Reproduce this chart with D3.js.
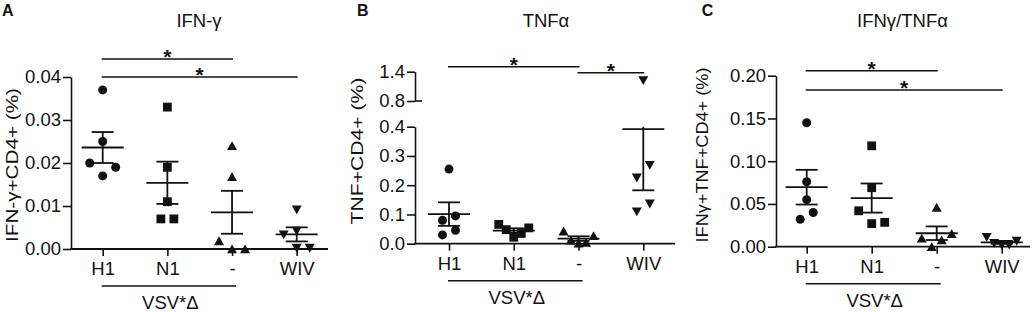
<!DOCTYPE html>
<html>
<head>
<meta charset="utf-8">
<script src="https://cdn.jsdelivr.net/npm/d3@7"></script>
<style>
  body { margin: 0; background: #fff; }
  svg text { font-family: "Liberation Sans", Arial, Helvetica, sans-serif; fill: #111; }
</style>
</head>
<body>
<svg id="chart" width="1034" height="312"></svg>
<script>

// ---- data ----
const groups = ['H1', 'N1', '-', 'WIV'];
const shapes = ['circle', 'square', 'triUp', 'triDown'];
const bracketLabel = 'VSV*Δ';

const ifngH1   = [0.037, 0.025, 0.020, 0.019, 0.017];
const ifngN1   = [0.033, 0.019, 0.011, 0.007, 0.007];
const ifngNone = [0.024, 0.0168, 0.0019, 0.0, 0.0];
const ifngWIV  = [0.0091, 0.0042, 0.0033, 0.0002, 0.0002];

const tnfH1   = [0.255, 0.095, 0.080, 0.046, 0.030];
const tnfN1   = [0.066, 0.048, 0.054, 0.035, 0.022];
const tnfNone = [0.043, 0.027, 0.012, 0.004, 0.002];
const tnfWIV  = [1.22, 0.268, 0.225, 0.136, 0.109];

const dualH1   = [0.145, 0.076, 0.055, 0.040, 0.032];
const dualN1   = [0.118, 0.069, 0.042, 0.0285, 0.027];
const dualNone = [0.046, 0.0152, 0.0098, 0.0078, 0.0];
const dualWIV  = [0.011, 0.0065, 0.004, 0.002, 0.002];

// significance brackets: [from, to, level]
const ifngSig = [['H1', '-', 0.0442], ['H1', 'WIV', 0.040]];
const tnfSig  = [['H1', '-', 1.50], ['-', 'WIV', 1.38]];
const dualSig = [['H1', '-', 0.2058], ['H1', 'WIV', 0.1833]];

const ifngTicks    = [0, 0.01, 0.02, 0.03, 0.04];
const tnfTicksLow  = [0, 0.1, 0.2, 0.3, 0.4];
const tnfTicksHigh = [0.8, 1.4];
const dualTicks    = [0, 0.05, 0.10, 0.15, 0.20];

const titles  = ['IFN-γ', 'TNFα', 'IFNγ/TNFα'];
const yLabels = ['IFN-γ+CD4+ (%)', 'TNF+CD4+ (%)', 'IFNγ+TNF+CD4+ (%)'];
const letters = ['A', 'B', 'C'];

// ---- layout ----
const svg = d3.select('#chart');
const ink = '#111';

const panels = [
  {
    series: [ifngH1, ifngN1, ifngNone, ifngWIV], sig: ifngSig,
    left: 71, right: 328, xr: [102.7, 296.7], zero: 249,
    segs: [{ domain: [0, 0.04], range: [249, 77], ticks: ifngTicks, fmt: d3.format('.2f') }],
    titleX: 199, letterX: 2, labelX: 12, labelY: 165, labelLen: 154
  },
  {
    series: [tnfH1, tnfN1, tnfNone, tnfWIV], sig: tnfSig,
    left: 415, right: 675, xr: [449, 643.3], zero: 243.7,
    segs: [
      { domain: [0, 0.4], range: [243.7, 126.7], ticks: tnfTicksLow, fmt: d3.format('.1f') },
      { domain: [0.8, 1.4], range: [101, 71.7], ticks: tnfTicksHigh, fmt: d3.format('.1f'), breakMark: true }
    ],
    titleX: 546, letterX: 357, labelX: 357.5, labelY: 151, labelLen: 147
  },
  {
    series: [dualH1, dualN1, dualNone, dualWIV], sig: dualSig,
    left: 776, right: 1030, xr: [806.7, 1001.7], zero: 246.7,
    segs: [{ domain: [0, 0.20], range: [246.7, 75.7], ticks: dualTicks, fmt: d3.format('.2f') }],
    titleX: 902.5, letterX: 701.7, labelX: 702, labelY: 155, labelLen: 175
  }
];

// piecewise y for broken axes
function makeY(segs) {
  let scales = segs.map(s => d3.scaleLinear().domain(s.domain).range(s.range));
  let f = (v) => {
    for (let i = scales.length - 1; i >= 0; i--) {
      if (v >= segs[i].domain[0]) {
        if (v <= segs[i].domain[1] || i === scales.length - 1) return scales[i](v);
        return scales[i](segs[i].domain[1]); // falls in the gap -> clamp
      }
    }
    return scales[0](v);
  };
  f.inside = (v) => segs.some(s => v >= s.domain[0] && v <= s.domain[1]);
  f.scales = scales;
  return f;
}

// spread points that sit at about the same height, like the prism scatter
function dodge(vals, yPos) {
  let idx = d3.range(vals.length).sort((a, b) => vals[a] - vals[b]);
  let off = new Array(vals.length).fill(0);
  let i = 0;
  while (i < idx.length) {
    let y0 = yPos(vals[idx[i]]);
    let j = i + 1;
    while (j < idx.length && Math.abs(yPos(vals[idx[j]]) - y0) < 14) j++;
    let n = j - i;
    let s = n <= 3 ? 13 : 30 / (n - 1);
    let slots = n % 2
      ? [0].concat(d3.range(1, n).map(k => (k % 2 ? 1 : -1) * Math.ceil(k / 2) * s))
      : d3.range(n).map(k => (k % 2 ? 1 : -1) * (Math.floor(k / 2) + 0.5) * s);
    for (let k = 0; k < n; k++) off[idx[i + k]] = slots[k];
    i = j;
  }
  return off;
}

function marker(g, shape, cx, cy) {
  if (shape === 'circle') {
    g.append('circle').attr('cx', cx).attr('cy', cy).attr('r', 4.5).attr('fill', ink);
  } else if (shape === 'square') {
    g.append('rect').attr('x', cx - 4.4).attr('y', cy - 4.4)
      .attr('width', 8.8).attr('height', 8.8).attr('fill', ink);
  } else {
    let s = shape === 'triUp' ? 1 : -1;
    g.append('path')
      .attr('d', `M${cx},${cy - 4.5 * s} L${cx + 5},${cy + 4.3 * s} L${cx - 5},${cy + 4.3 * s} Z`)
      .attr('fill', ink);
  }
}

panels.forEach((p, pi) => {
  let g = svg.append('g');
  let y = makeY(p.segs);
  let x = d3.scalePoint().domain(groups).range(p.xr);

  // y axis (one per segment)
  p.segs.forEach((s, si) => {
    let ax = g.append('g')
      .attr('transform', `translate(${p.left},0)`)
      .call(d3.axisLeft(y.scales[si]).tickValues(s.ticks).tickFormat(s.fmt)
        .tickSize(8).tickSizeOuter(0).tickPadding(2));
    ax.selectAll('path, line').attr('stroke', ink).attr('stroke-width', 1.6);
    ax.selectAll('text').style('font-size', '18.5px');
    if (s.breakMark) {
      g.append('line')
        .attr('x1', p.left).attr('x2', p.left + 7)
        .attr('y1', y.scales[si](s.domain[0])).attr('y2', y.scales[si](s.domain[0]))
        .attr('stroke', ink).attr('stroke-width', 1.6);
    }
  });

  // x axis
  g.append('line')
    .attr('x1', p.left - 0.8).attr('x2', p.right)
    .attr('y1', p.zero).attr('y2', p.zero)
    .attr('stroke', ink).attr('stroke-width', 1.8);
  let xa = g.append('g')
    .attr('transform', `translate(0,${p.zero})`)
    .call(d3.axisBottom(x).tickSize(7).tickPadding(6));
  xa.select('.domain').remove();
  xa.selectAll('line').attr('stroke', ink).attr('stroke-width', 1.6);
  xa.selectAll('text').style('font-size', '18.5px');

  // VSV*Δ bracket
  g.append('line')
    .attr('x1', x('H1') - 1).attr('x2', x('-') + 4)
    .attr('y1', p.zero + 37).attr('y2', p.zero + 37)
    .attr('stroke', ink).attr('stroke-width', 1.6);
  g.append('text')
    .attr('x', (x('H1') + x('-')) / 2 + 3).attr('y', p.zero + 60)
    .attr('text-anchor', 'middle').style('font-size', '18.5px')
    .text(bracketLabel);

  // points + mean ± SEM
  p.series.forEach((vals, gi) => {
    let cx = x(groups[gi]);
    let off = dodge(vals, y);
    vals.forEach((v, k) => marker(g, shapes[gi], cx + off[k], y(v)));

    let m = d3.mean(vals);
    let sem = d3.deviation(vals) / Math.sqrt(vals.length);
    let lo = m - sem, hi = m + sem;
    let bar = g.append('g').attr('stroke', ink).attr('stroke-width', 1.8);
    bar.append('line').attr('x1', cx).attr('x2', cx).attr('y1', y(lo)).attr('y2', y(hi));
    bar.append('line').attr('x1', cx - 21).attr('x2', cx + 21).attr('y1', y(m)).attr('y2', y(m));
    [lo, hi].forEach(e => {
      if (y.inside(e)) {
        bar.append('line').attr('x1', cx - 11).attr('x2', cx + 11).attr('y1', y(e)).attr('y2', y(e));
      }
    });
  });

  // significance bars
  p.sig.forEach(([a, b, lvl]) => {
    let yy = y(lvl);
    g.append('line')
      .attr('x1', x(a) - 1).attr('x2', x(b) + 1)
      .attr('y1', yy).attr('y2', yy)
      .attr('stroke', ink).attr('stroke-width', 1.5);
    g.append('text')
      .attr('x', (x(a) + x(b)) / 2).attr('y', yy + 5)
      .attr('text-anchor', 'middle')
      .style('font-size', '21px').style('font-weight', 'bold')
      .text('*');
  });

  // titles, panel letter, y label
  g.append('text')
    .attr('x', p.titleX).attr('y', 26.5)
    .attr('text-anchor', 'middle').style('font-size', '18.5px')
    .text(titles[pi]);
  g.append('text')
    .attr('x', p.letterX).attr('y', 15.5)
    .style('font-size', '16px').style('font-weight', 'bold')
    .text(letters[pi]);
  g.append('text')
    .attr('transform', `translate(${p.labelX},${p.labelY}) rotate(-90)`)
    .attr('text-anchor', 'middle').attr('dominant-baseline', 'central')
    .attr('textLength', p.labelLen).attr('lengthAdjust', 'spacingAndGlyphs')
    .style('font-size', '17px')
    .text(yLabels[pi]);
});

</script>
</body>
</html>
